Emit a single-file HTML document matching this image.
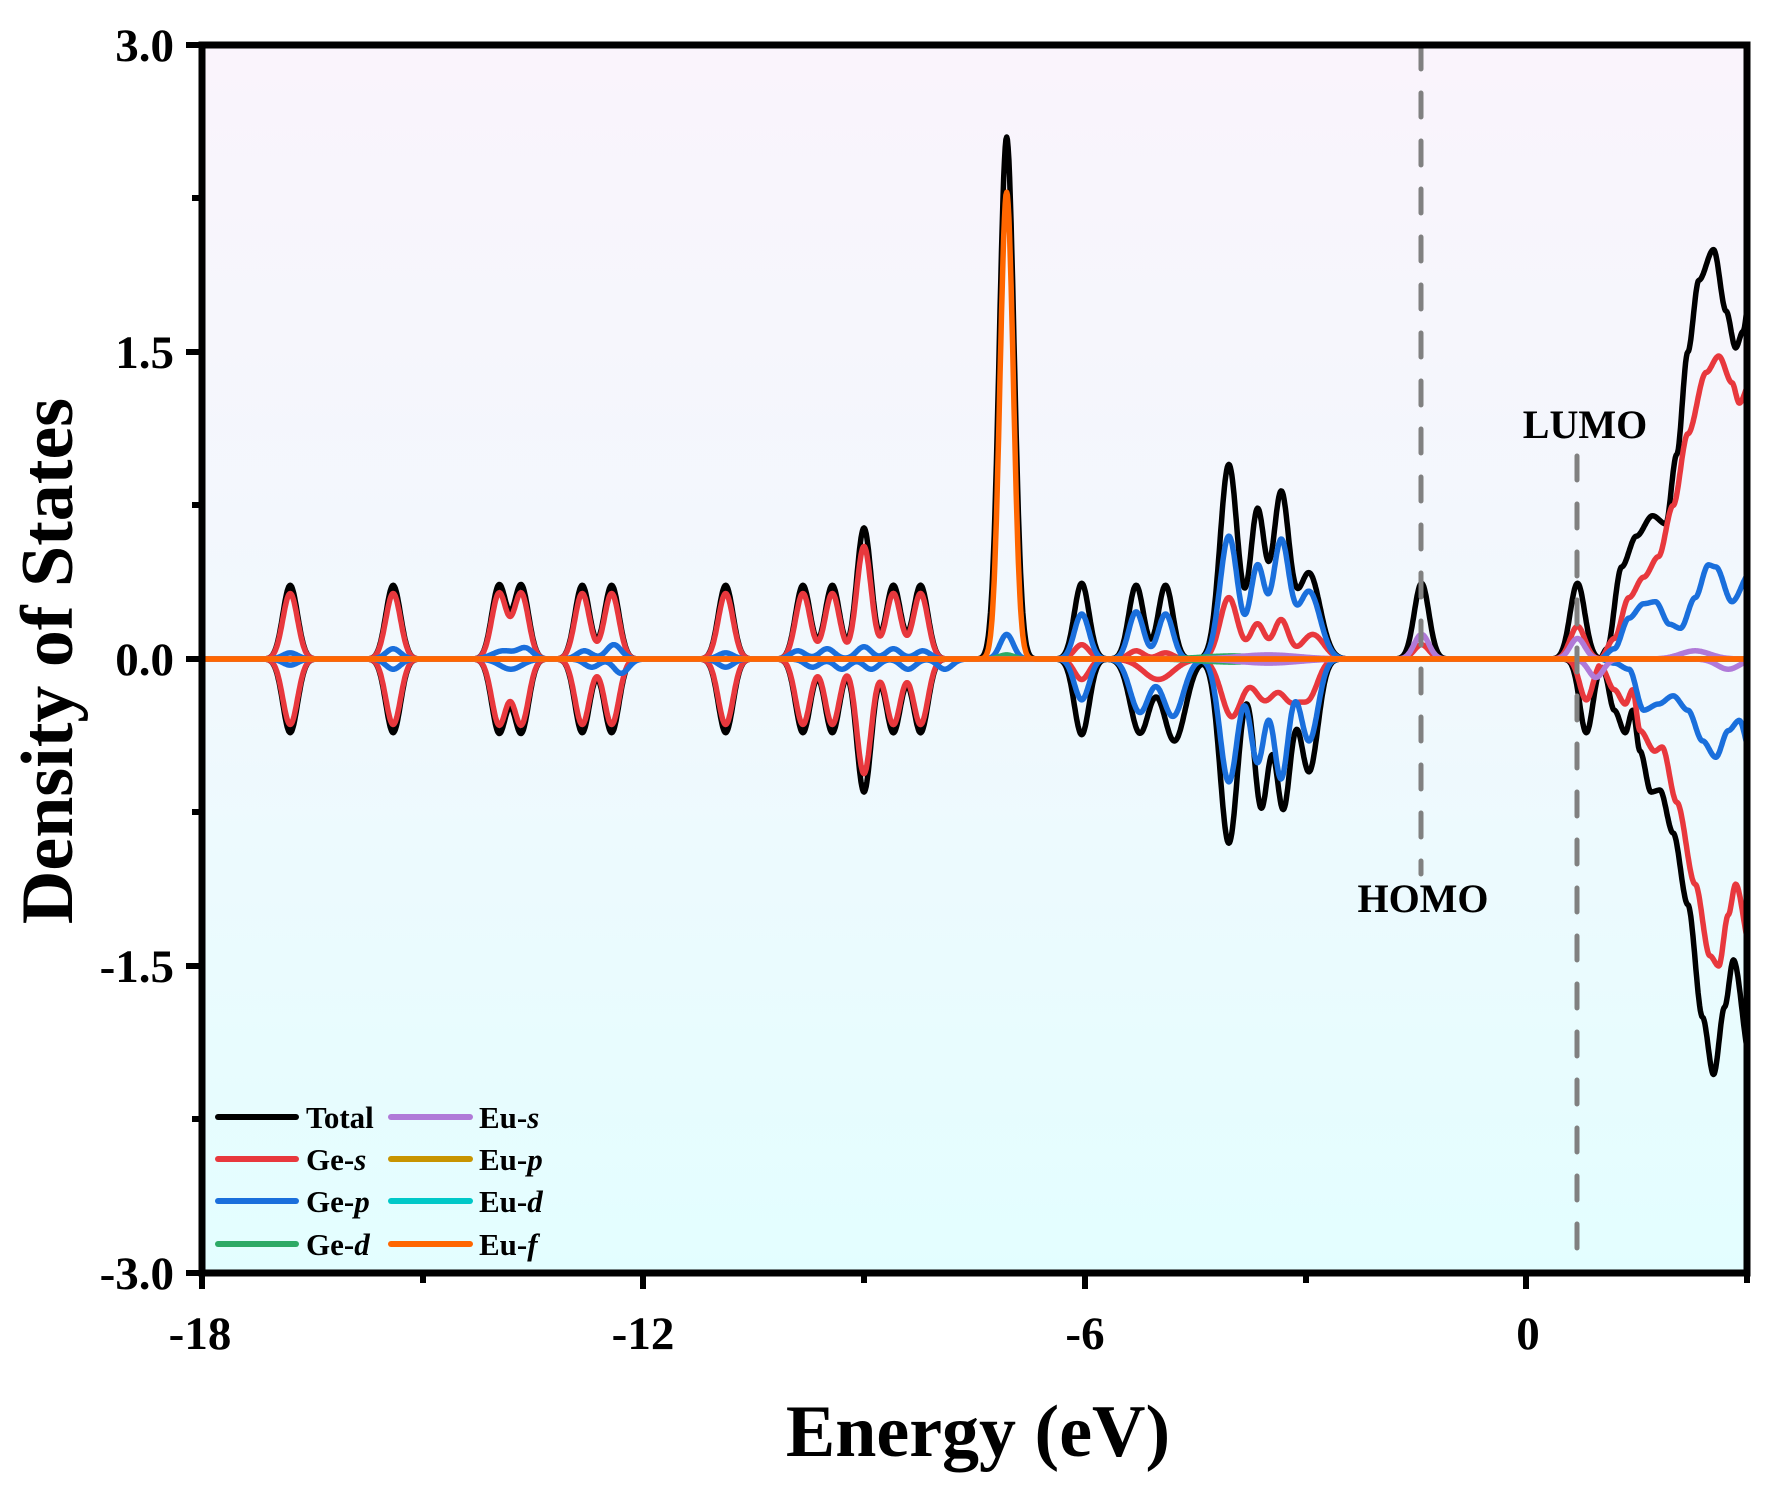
<!DOCTYPE html>
<html><head><meta charset="utf-8"><style>
html,body{margin:0;padding:0;background:#fff}
svg{display:block}
text{font-family:"Liberation Serif",serif;font-weight:bold;fill:#000}
</style></head><body>
<svg id="s" width="1770" height="1498" viewBox="0 0 1770 1498" xmlns="http://www.w3.org/2000/svg">
<defs>
<linearGradient id="bg" x1="0" y1="0" x2="0" y2="1">
<stop offset="0" stop-color="#faf4fc"/><stop offset="0.5" stop-color="#f1f8fd"/><stop offset="1" stop-color="#e3feff"/>
</linearGradient>
<clipPath id="cp"><rect x="202" y="45" width="1545" height="1228"/></clipPath>
</defs>
<rect x="202" y="45" width="1545" height="1228" fill="url(#bg)"/>
<g id="curves" clip-path="url(#cp)"></g>
<line x1="1421" y1="45" x2="1421" y2="874" stroke="#808080" stroke-width="5" stroke-dasharray="24,24" stroke-linecap="round"/>
<line x1="1577" y1="456" x2="1577" y2="1273" stroke="#808080" stroke-width="5" stroke-dasharray="24,24" stroke-linecap="round"/>
<text x="1423" y="912" font-size="40" text-anchor="middle">HOMO</text>
<text x="1585" y="438" font-size="40" text-anchor="middle">LUMO</text>
<rect x="202" y="45" width="1545" height="1228" fill="none" stroke="#000" stroke-width="7"/>
<g stroke="#000" stroke-width="6">
<line x1="186" y1="45" x2="202" y2="45"/><line x1="186" y1="352" x2="202" y2="352"/>
<line x1="186" y1="659" x2="202" y2="659"/><line x1="186" y1="966" x2="202" y2="966"/>
<line x1="186" y1="1273" x2="202" y2="1273"/>
<line x1="192" y1="198" x2="202" y2="198"/><line x1="192" y1="505" x2="202" y2="505"/>
<line x1="192" y1="812" x2="202" y2="812"/><line x1="192" y1="1119" x2="202" y2="1119"/>
<line x1="202" y1="1273" x2="202" y2="1289"/><line x1="643" y1="1273" x2="643" y2="1289"/>
<line x1="1085" y1="1273" x2="1085" y2="1289"/><line x1="1526" y1="1273" x2="1526" y2="1289"/>
<line x1="423" y1="1273" x2="423" y2="1283"/><line x1="864" y1="1273" x2="864" y2="1283"/>
<line x1="1306" y1="1273" x2="1306" y2="1283"/><line x1="1747" y1="1273" x2="1747" y2="1283"/>
</g>
<g font-size="47" text-anchor="end">
<text x="174" y="61">3.0</text><text x="174" y="368">1.5</text><text x="174" y="675">0.0</text>
<text x="174" y="982">-1.5</text><text x="174" y="1289">-3.0</text>
</g>
<g font-size="47" text-anchor="middle">
<text x="200" y="1349">-18</text><text x="643" y="1349">-12</text><text x="1085" y="1349">-6</text><text x="1528" y="1349">0</text>
</g>
<text x="978" y="1456" font-size="74" text-anchor="middle">Energy (eV)</text>
<text transform="translate(72,661) rotate(-90)" font-size="74" text-anchor="middle">Density of States</text>
<g font-size="31" stroke-width="6" stroke-linecap="round">
<line x1="218" y1="1117" x2="296" y2="1117" stroke="#000"/><text x="306" y="1128">Total</text>
<line x1="218" y1="1159" x2="296" y2="1159" stroke="#e8383d"/><text x="306" y="1170">Ge-<tspan font-style="italic">s</tspan></text>
<line x1="218" y1="1201" x2="296" y2="1201" stroke="#1a6fdc"/><text x="306" y="1212">Ge-<tspan font-style="italic">p</tspan></text>
<line x1="218" y1="1244" x2="296" y2="1244" stroke="#2eaa66"/><text x="306" y="1255">Ge-<tspan font-style="italic">d</tspan></text>
<line x1="391" y1="1117" x2="470" y2="1117" stroke="#b07ad8"/><text x="479" y="1128">Eu-<tspan font-style="italic">s</tspan></text>
<line x1="391" y1="1159" x2="470" y2="1159" stroke="#c89400"/><text x="479" y="1170">Eu-<tspan font-style="italic">p</tspan></text>
<line x1="391" y1="1201" x2="470" y2="1201" stroke="#00c8c8"/><text x="479" y="1212">Eu-<tspan font-style="italic">d</tspan></text>
<line x1="391" y1="1244" x2="470" y2="1244" stroke="#ff6600"/><text x="479" y="1255">Eu-<tspan font-style="italic">f</tspan></text>
</g>
</svg>
<script>
(function(){
var X=function(e){return 1526+e*73.56;},Y=function(v){return 659-v*204.7;};
var early=[-16.8,-15.4,-13.96,-13.66,-12.83,-12.43,-10.88,-9.83,-9.43,-8.6,-8.23];
function G(list,a,s){return list.map(function(c){return [c,a,s||0.1];});}
function interp(pts,x){if(!pts||x<pts[0][0]||x>pts[pts.length-1][0])return 0;
for(var i=0;i<pts.length-1;i++){var a=pts[i],b=pts[i+1];if(x>=a[0]&&x<=b[0]){var t=(x-a[0])/(b[0]-a[0]);t=t*t*(3-2*t);return a[1]+(b[1]-a[1])*t;}}return 0;}
var C={
tot:{c:"#000",g:[].concat(G(early,0.36),G(early,-0.36),[[-9.0,0.64,0.1],[-9.0,-0.65,0.1],[-7.06,2.55,0.1],[-6.04,0.37,0.1],[-6.04,-0.37,0.1],[-5.3,0.36,0.1],[-4.9,0.36,0.1],[-5.25,-0.36,0.13],[-4.78,-0.4,0.15],[-4.04,0.95,0.12],[-3.65,0.72,0.1],[-3.33,0.8,0.11],[-2.95,0.42,0.15],[-4.04,-0.9,0.12],[-3.6,-0.72,0.1],[-3.3,-0.72,0.1],[-2.95,-0.55,0.12],[-1.42,0.37,0.1],[0.7,0.37,0.1],[0.82,-0.36,0.09]]),
 p:[[[1.0,0],[1.1,0.05],[1.3,0.45],[1.5,0.6],[1.72,0.7],[1.9,0.66],[2.05,1.0],[2.2,1.5],[2.35,1.85],[2.55,2.0],[2.72,1.7],[2.85,1.52],[2.95,1.6],[3.05,1.8]],
 [[1.0,-0.03],[1.05,-0.05],[1.2,-0.25],[1.35,-0.36],[1.45,-0.25],[1.55,-0.45],[1.7,-0.65],[1.82,-0.64],[2.0,-0.85],[2.2,-1.2],[2.4,-1.75],[2.55,-2.03],[2.7,-1.7],[2.82,-1.47],[3.05,-1.95]]]},
ges:{c:"#e8383d",g:[].concat(G(early,0.32),G(early,-0.32),[[-9.0,0.55,0.1],[-9.0,-0.56,0.1],[-6.04,0.07,0.1],[-6.04,-0.1,0.1],[-5.3,0.04,0.1],[-4.9,0.03,0.1],[-5.0,-0.1,0.2],[-4.04,0.3,0.12],[-3.65,0.17,0.1],[-3.33,0.19,0.1],[-2.9,0.12,0.15],[-4.0,-0.28,0.14],[-3.55,-0.2,0.15],[-3.2,-0.18,0.12],[-2.95,-0.18,0.12],[-1.42,0.07,0.1],[0.7,0.16,0.1],[0.82,-0.2,0.09]]),
 p:[[[1.0,0],[1.2,0.1],[1.4,0.3],[1.6,0.4],[1.8,0.5],[2.0,0.75],[2.2,1.1],[2.45,1.4],[2.62,1.48],[2.8,1.35],[2.9,1.25],[3.05,1.35]],
 [[1.0,-0.02],[1.2,-0.15],[1.35,-0.22],[1.45,-0.15],[1.55,-0.35],[1.75,-0.45],[1.85,-0.43],[2.05,-0.7],[2.3,-1.1],[2.5,-1.45],[2.62,-1.5],[2.75,-1.25],[2.85,-1.1],[3.05,-1.4]]]},
gep:{c:"#1a6fdc",g:[[-16.8,0.03],[-16.8,-0.03],[-15.4,0.05],[-15.4,-0.05],[-13.9,0.04,0.15],[-13.6,0.05],[-13.8,-0.05,0.15],[-12.8,0.04],[-12.4,0.07],[-12.7,-0.04],[-12.3,-0.07],[-10.88,0.03],[-10.88,-0.04],[-9.9,0.04],[-9.5,0.05],[-9.0,0.06],[-8.6,0.05],[-8.2,0.04],[-9.7,-0.04],[-9.3,-0.05],[-8.9,-0.05],[-8.4,-0.05],[-7.9,-0.05],[-7.06,0.12,0.09],[-6.04,0.22,0.1],[-6.04,-0.2,0.1],[-5.3,0.23,0.1],[-4.9,0.22,0.1],[-5.25,-0.26,0.13],[-4.8,-0.28,0.14],[-4.04,0.6,0.12],[-3.65,0.45,0.1],[-3.33,0.57,0.11],[-2.95,0.33,0.15],[-4.04,-0.6,0.12],[-3.65,-0.5,0.1],[-3.33,-0.58,0.1],[-2.95,-0.4,0.12]],
 p:[[[1.0,0],[1.2,0.05],[1.4,0.2],[1.6,0.27],[1.76,0.28],[1.95,0.17],[2.1,0.15],[2.3,0.3],[2.48,0.46],[2.58,0.45],[2.8,0.28],[3.05,0.42]],
 [[1.0,0],[1.2,-0.02],[1.4,-0.05],[1.6,-0.25],[1.8,-0.22],[2.0,-0.18],[2.2,-0.25],[2.4,-0.4],[2.58,-0.48],[2.75,-0.35],[2.9,-0.3],[3.05,-0.45]]]},
ged:{c:"#2eaa66",g:[[-7.06,0.02],[-4,0.015,0.4],[-4,-0.015,0.4]],p:[]},
eup:{c:"#c89400",g:[],p:[]},
eud:{c:"#00c8c8",g:[],p:[]},
eus:{c:"#b07ad8",g:[[-1.42,0.12,0.1],[0.7,0.1,0.1],[0.95,-0.09,0.1],[-3.5,0.02,0.4],[-3.5,-0.02,0.4],[2.3,0.04,0.2],[2.75,-0.05,0.15]],p:[]},
euf:{c:"#ff6600",g:[[-7.06,2.28,0.09]],p:[]}
};
var order=["tot","ges","gep","ged","eup","eud","eus","euf"];
var g=document.getElementById("curves"),ns="http://www.w3.org/2000/svg";
order.forEach(function(k){var o=C[k];
 [1,-1].forEach(function(sg){var d="";
  var gs=o.g.filter(function(q){return q[1]*sg>0;});
  var pl=o.p.length?(sg>0?o.p[0]:o.p[1]):null;
  for(var x=-18.1;x<=3.1;x+=0.01){var v=0;gs.forEach(function(q){var s=q[2]||0.1;v+=q[1]*Math.exp(-(x-q[0])*(x-q[0])/(2*s*s));});
   v+=interp(pl,x);
   d+=(d?"L":"M")+X(x).toFixed(1)+" "+Y(v).toFixed(1);}
  var p=document.createElementNS(ns,"path");p.setAttribute("d",d);p.setAttribute("fill","none");p.setAttribute("stroke",o.c);
  p.setAttribute("stroke-width","5.5");p.setAttribute("stroke-linejoin","round");g.appendChild(p);});});
})();
</script>
</body></html>
